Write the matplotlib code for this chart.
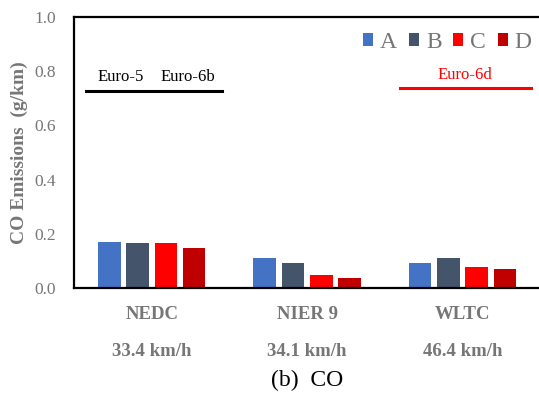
import numpy as np
import matplotlib.pyplot as plt
from matplotlib.transforms import blended_transform_factory

plt.rcParams['font.family'] = ['Liberation Serif', 'DejaVu Serif']

# CO emissions (g/km) per driving cycle for vehicles A-D
cycles = ['NEDC', 'NIER 9', 'WLTC']
speeds = ['33.4 km/h', '34.1 km/h', '46.4 km/h']
vehicles = ['A', 'B', 'C', 'D']
co_A = [0.171, 0.111, 0.092]
co_B = [0.167, 0.092, 0.111]
co_C = [0.165, 0.049, 0.076]
co_D = [0.148, 0.038, 0.069]
colors = ['#4472C4', '#44546A', '#FF0000', '#C00000']

gray = '#767676'

fig = plt.figure(figsize=(5.39, 3.94), dpi=100)
ax = fig.add_axes([0.1373, 0.269, 0.865, 0.688])

x = np.arange(len(cycles))
width = 0.145
step = 0.182
for i, (vals, col, name) in enumerate(zip([co_A, co_B, co_C, co_D], colors, vehicles)):
    ax.bar(x + (i - 1.5) * step, vals, width, color=col, label=name)

ax.set_xlim(-0.5, 2.5)
ax.set_ylim(0, 1.0)
ax.set_yticks(np.arange(0, 1.01, 0.2))
ax.set_yticklabels(['%.1f' % v for v in np.arange(0, 1.01, 0.2)], color=gray, fontsize=12.5)
ax.set_xticks(x)
ax.set_xticklabels(cycles, color=gray, fontsize=13.5, fontweight='bold')
ax.tick_params(axis='both', length=0)
ax.tick_params(axis='x', pad=13)
ax.tick_params(axis='y', pad=13)

for side in ['left', 'bottom', 'top']:
    ax.spines[side].set_linewidth(1.6)
    ax.spines[side].set_color('black')
ax.spines['right'].set_visible(False)

ax.set_ylabel('CO Emissions  (g/km)', color=gray, fontsize=14, fontweight='bold',
              va='center')
ax.yaxis.set_label_coords(-0.118, 0.5)

# speed of each cycle under the cycle name
tr = blended_transform_factory(ax.transData, ax.transAxes)
for xi, s in zip(x, speeds):
    ax.text(xi, -0.235, s, transform=tr, ha='center', va='center',
            color=gray, fontsize=13.5, fontweight='bold')

ax.text(0.5, -0.34, '(b)  CO', transform=ax.transAxes, ha='center', va='center',
        fontsize=17, color='black')

# emission standard markers
ax.plot([-0.42, 0.455], [0.728, 0.728], color='black', lw=2.2, clip_on=False)
ax.text(-0.2, 0.78, 'Euro-5', ha='center', va='center', fontsize=12)
ax.text(0.235, 0.78, 'Euro-6b', ha='center', va='center', fontsize=12)
ax.plot([1.6, 2.44], [0.738, 0.738], color='#FF0000', lw=2.2)
ax.text(2.015, 0.785, 'Euro-6d', ha='center', va='center', fontsize=12, color='#FF0000')

leg = ax.legend(loc='upper right', bbox_to_anchor=(0.982, 0.945), ncol=4, frameon=False,
                fontsize=17, handlelength=0.42, handleheight=0.42, handletextpad=0.3,
                columnspacing=0.5, borderaxespad=0, borderpad=0)
for t in leg.get_texts():
    t.set_color(gray)

fig.savefig('out.png', dpi=100)
